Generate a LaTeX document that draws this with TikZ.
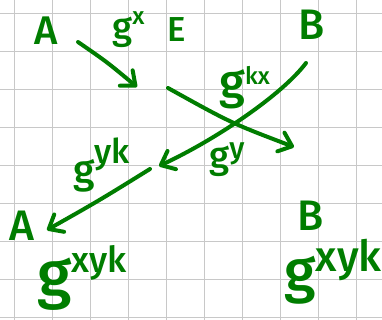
\documentclass[tikz,border=0pt]{standalone}
\usepackage{fontspec}
\usepackage{graphicx}
\setmainfont{Fira Sans}[UprightFont={* Medium}]
\usetikzlibrary{arrows.meta}
\definecolor{PenGreen}{RGB}{0,125,0}
\definecolor{GridGray}{RGB}{200,200,200}
\newcommand{\gpow}[3]{g\raisebox{#2em}{\scalebox{#1}{#3}}}

\begin{document}
\begin{tikzpicture}[x=0.75pt, y=-0.75pt,
		pen/.style={line width=3pt, line cap=round, PenGreen},
		ink/.style={text=PenGreen, inner sep=0pt, font=\fontsize{#1}{#1}\selectfont},
		headed/.style={-{Straight Barb[round, length=9pt, width=15pt]}}]
		\useasboundingbox (0,0) rectangle (382,320);
		\foreach \i in {0,...,9}
			\draw[GridGray, line width=1.1pt] ({14.3+38*\i},0) -- ({14.3+38*\i},320);
		\foreach \j in {0,...,8}
			\draw[GridGray, line width=1.1pt] (0,{13.3+38*\j}) -- (382,{13.3+38*\j});
		\node[ink=30] (A) at (46,31) {A};
		\node[ink=26] (E) at (177,30) {E};
		\node[ink=32] (B) at (312,25) {B};
		\node[ink=32] (A2) at (22,226) {A};
		\node[ink=32] (B2) at (311,216) {B};
		\node[ink=28, anchor=base west] (gx) at (112,40) {\gpow{.65}{.42}{x}};
		\node[ink=36, anchor=base west] (gkx) at (219,99) {\gpow{.5}{.3}{kx}};
		\node[ink=28, anchor=base west] (gy) at (209,169) {\gpow{.8}{.28}{y}};
		\node[ink=30, anchor=base west] (gyk) at (73,184) {\gpow{.85}{.5}{yk}};
		\node[ink=48, anchor=base west] (keyA) at (37,297) {\gpow{.56}{.39}{xyk}};
		\node[ink=44, anchor=base west] (keyB) at (284,292) {\gpow{.73}{.35}{xyk}};
		\coordinate (s1) at (78,42);
		\coordinate (e1) at (137,87);
		\coordinate (s2) at (168,88);
		\coordinate (e2) at (294,147);
		\coordinate (s3) at (306,63);
		\coordinate (e3) at (159,166);
		\coordinate (s4) at (150,169);
		\coordinate (e4) at (47,230);
		\draw[pen, headed] (s1) .. controls (107,62) .. (e1);
		\draw[pen, headed] (s2) .. controls (231,123) .. (e2);
		\draw[pen, headed] (s3) .. controls (282,95) and (215,140) .. (e3);
		\draw[pen, headed] (s4) .. controls (100,200) .. (e4);
	\end{tikzpicture}
\end{document}
